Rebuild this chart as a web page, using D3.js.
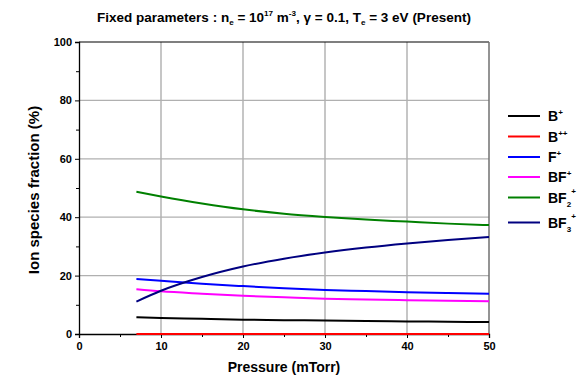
<!DOCTYPE html>
<html><head><meta charset="utf-8">
<script src="https://cdn.jsdelivr.net/npm/d3@7"></script>
<style>body{margin:0;background:#fff}svg{display:block;font-family:"Liberation Sans",Arial,sans-serif;font-weight:bold}</style>
</head><body><svg id="c" width="584" height="380"></svg>
<script>
const pressure = [7, 10, 15, 20, 25, 30, 35, 40, 45, 50];
const seriesNames = ["B+", "B++", "F+", "BF+", "BF2+", "BF3+"];
const seriesColors = ["#000000", "#ff0000", "#0000ff", "#ff00ff", "#008000", "#000080"];
const valB = [5.7, 5.5, 5.2, 4.9, 4.75, 4.6, 4.45, 4.3, 4.2, 4.1];
const valBB = [0.02, 0.02, 0.02, 0.02, 0.02, 0.02, 0.02, 0.02, 0.02, 0.02];
const valF = [18.8, 18.2, 17.2, 16.4, 15.7, 15.1, 14.7, 14.3, 14.0, 13.8];
const valBF = [15.3, 14.6, 13.8, 13.1, 12.6, 12.1, 11.85, 11.6, 11.4, 11.2];
const valBF2 = [48.7, 47.1, 44.7, 42.7, 41.2, 40.1, 39.2, 38.5, 37.8, 37.3];
const valBF3 = [11.1, 14.8, 19.5, 23.1, 25.8, 27.9, 29.6, 31.0, 32.2, 33.2];
const xTicks = [0, 10, 20, 30, 40, 50];
const yTicks = [0, 20, 40, 60, 80, 100];
const allVals = [valB, valBB, valF, valBF, valBF2, valBF3];

const svg = d3.select("#c");
const L = 79, R = 489, T = 42, B = 334;
const x = d3.scaleLinear().domain([0, 50]).range([L, R]);
const y = d3.scaleLinear().domain([0, 100]).range([B, T]);

// grid
svg.append("g").selectAll("line").data(xTicks.filter(d => d > 0 && d < 50)).join("line")
  .attr("x1", d => x(d)).attr("x2", d => x(d)).attr("y1", T).attr("y2", B)
  .attr("stroke", "#a0a0a0").attr("stroke-width", 1.2);
svg.append("g").selectAll("line").data(yTicks.filter(d => d > 0 && d < 100)).join("line")
  .attr("x1", L).attr("x2", R).attr("y1", d => y(d)).attr("y2", d => y(d))
  .attr("stroke", "#b0b0b0").attr("stroke-width", 1.2);

// frame top/right
svg.append("line").attr("x1", L).attr("x2", R).attr("y1", T).attr("y2", T).attr("stroke", "#000").attr("stroke-width", 1.2);
svg.append("line").attr("x1", R).attr("x2", R).attr("y1", T).attr("y2", B).attr("stroke", "#707070").attr("stroke-width", 1.5);

// axes
const xAxis = d3.axisBottom(x).tickValues(xTicks).tickSize(4).tickPadding(4);
const gx = svg.append("g").attr("transform", `translate(0,${B})`).call(xAxis);
gx.selectAll(".tick").filter(d => d === 50).select("line").remove();
svg.append("g").attr("transform", `translate(0,${B})`)
  .call(d3.axisBottom(x).tickValues([5, 15, 25, 35, 45]).tickSize(3).tickFormat(""))
  .select(".domain").remove();
const gy = svg.append("g").attr("transform", `translate(${L},0)`)
  .call(d3.axisLeft(y).tickValues(yTicks).tickSize(4).tickPadding(3));
svg.append("g").attr("transform", `translate(${L},0)`)
  .call(d3.axisLeft(y).tickValues([10, 30, 50, 70, 90]).tickSize(3).tickFormat(""))
  .select(".domain").remove();
svg.selectAll(".domain").attr("stroke-width", 1.3);
svg.selectAll(".tick text").attr("font-family", "Liberation Sans, Arial, sans-serif")
  .attr("font-weight", "bold").attr("font-size", 11).attr("fill", "#000");

// lines
const line = d3.line().x((d, i) => x(pressure[i])).y(d => y(d)).curve(d3.curveMonotoneX);
allVals.forEach((vals, k) => {
  svg.append("path").datum(vals).attr("d", line).attr("fill", "none")
    .attr("stroke", seriesColors[k]).attr("stroke-width", 2);
});

// titles
const title = svg.append("text").attr("x", 284).attr("y", 22).attr("text-anchor", "middle").attr("font-size", 13.5);
function addParts(t, parts, fs) {
  parts.forEach(p => {
    const ts = t.append("tspan").text(p[0]);
    if (p[1] === "sub") ts.attr("font-size", fs * 0.6).attr("dy", 3);
    if (p[1] === "sup") ts.attr("font-size", fs * 0.6).attr("dy", -6);
    if (p[2]) ts.attr("dy", p[2]);
  });
}
addParts(title, [["Fixed parameters : n"], ["e", "sub"], [" = 10", null, -3], ["17", "sup"], [" m", null, 6], ["-3", "sup"], [", γ = 0.1, T", null, 6], ["e", "sub"], [" = 3 eV (Present)", null, -3]], 13.5);

svg.append("text").attr("x", 284).attr("y", 372).attr("text-anchor", "middle").attr("font-size", 14).text("Pressure (mTorr)");
svg.append("text").attr("transform", "translate(39,190) rotate(-90)").attr("text-anchor", "middle").attr("font-size", 15).text("Ion species fraction (%)");

// legend
const legY = [116, 136.5, 157, 177, 197.5, 222.5];
const legParts = [
  [["B"], ["+", "sup"]],
  [["B"], ["++", "sup"]],
  [["F"], ["+", "sup"]],
  [["BF"], ["+", "sup"]],
  [["BF"], ["2", "sub2"], ["+", "sup2"]],
  [["BF"], ["3", "sub2"], ["+", "sup2"]]
];
seriesNames.forEach((n, k) => {
  const g = svg.append("g");
  g.append("line").attr("x1", 508).attr("x2", 540).attr("y1", legY[k]).attr("y2", legY[k])
    .attr("stroke", seriesColors[k]).attr("stroke-width", 2);
  const t = g.append("text").attr("x", 548).attr("y", legY[k] + 5).attr("font-size", 14);
  legParts[k].forEach(p => {
    const ts = t.append("tspan").text(p[0]);
    if (p[1] === "sup") ts.attr("font-size", 8).attr("dy", -6);
    if (p[1] === "sub2") ts.attr("font-size", 8).attr("dy", 4);
    if (p[1] === "sup2") ts.attr("font-size", 8).attr("dy", -13);
  });
});
</script></body></html>
